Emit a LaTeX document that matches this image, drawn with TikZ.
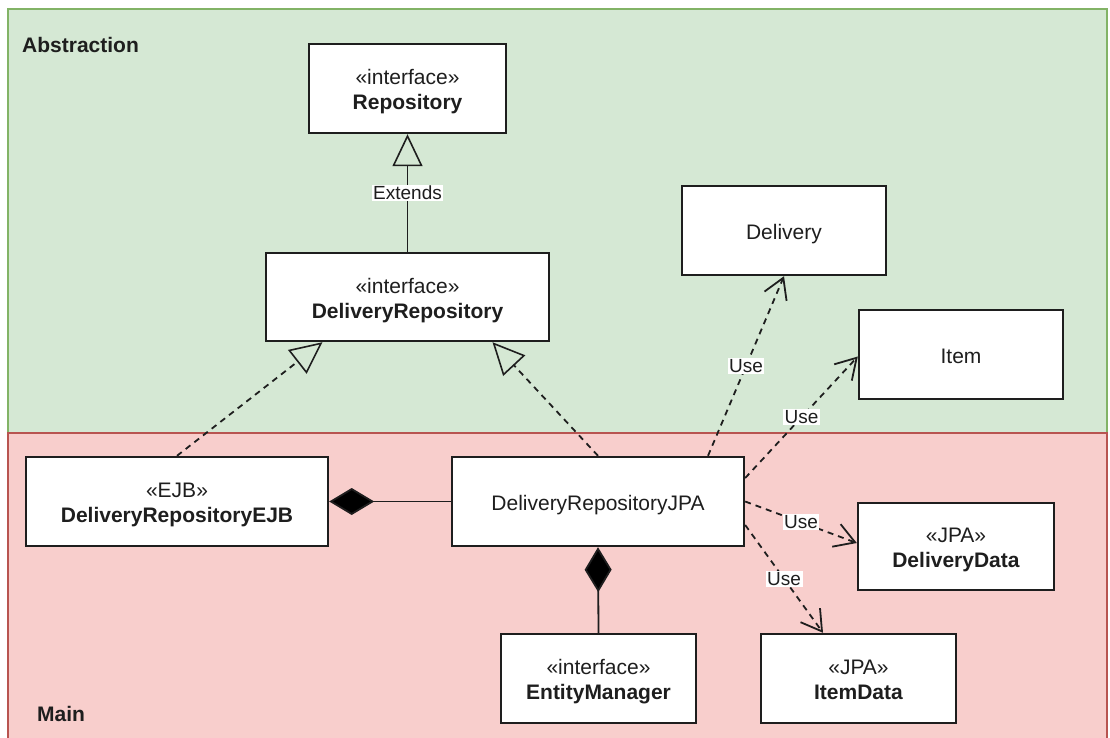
\documentclass[tikz,border=0pt]{standalone}
\usepackage{fontspec}
\setmainfont{Liberation Sans}
\usetikzlibrary{arrows.meta}

\definecolor{absfill}{HTML}{D5E8D4}
\definecolor{absline}{HTML}{82B366}
\definecolor{mainfill}{HTML}{F8CECC}
\definecolor{mainline}{HTML}{B85450}
\definecolor{ink}{HTML}{1E1E1E}

% centred class text, with a little extra room above the first line
\newcommand\umltext[1]{\begin{tabular}{@{}c@{}}\rule{0pt}{25pt}#1\end{tabular}}

\begin{document}
\begin{tikzpicture}[x=1pt,y=-1pt,
  every node/.style={text=ink},
  umlbox/.style={draw=ink, line width=2.4pt, fill=white, inner sep=0pt,
    font=\fontsize{21}{25}\selectfont},
  region/.style={line width=1.2pt},
  regionlabel/.style={anchor=west, inner sep=0pt, font=\bfseries\fontsize{21}{25}\selectfont},
  lbl/.style={fill=white, inner sep=1.5pt, font=\fontsize{19}{21}\selectfont},
  generalize/.style={draw=ink, line width=1.8pt,
    -{Triangle[open, length=32pt, width=30pt, line width=1.6pt]}},
  realize/.style={generalize, dash pattern=on 6pt off 5pt},
  use/.style={draw=ink, line width=1.8pt, dash pattern=on 6pt off 5pt,
    -{Straight Barb[length=20pt, width=24pt, line width=1.8pt]}},
  compose/.style={draw=ink, line width=1.8pt,
    {Diamond[length=45pt, width=27pt, fill=black]}-}
]
\useasboundingbox (0,0) rectangle (1110,737);
\clip (0,0) rectangle (1110,737);
\fill[white] (0,0) rectangle (1110,737);

% package regions
\draw[region, draw=absline, fill=absfill] (8,9) rectangle (1107,433);
\draw[region, draw=mainline, fill=mainfill] (8,433) rectangle (1107,760);
\node[regionlabel] (abslabel) at (22,45) {Abstraction};
\node[regionlabel] (mainlabel) at (37,714) {Main};

% classes and interfaces
\node[umlbox, minimum width=197pt, minimum height=89pt] (repo) at (407.5,88.5)
  {\umltext{«interface»\\\textbf{Repository}}};
\node[umlbox, minimum width=283pt, minimum height=88pt] (drepo) at (407.5,297)
  {\umltext{«interface»\\\textbf{DeliveryRepository}}};
\node[umlbox, minimum width=204pt, minimum height=89pt] (delivery) at (784,230.5)
  {\umltext{Delivery}};
\node[umlbox, minimum width=204pt, minimum height=89pt] (item) at (961,354.5)
  {\umltext{Item}};
\node[umlbox, minimum width=302pt, minimum height=89pt] (ejb) at (177,501.5)
  {\umltext{«EJB»\\\textbf{DeliveryRepositoryEJB}}};
\node[umlbox, minimum width=292pt, minimum height=89pt] (jpa) at (598,501.5)
  {\umltext{DeliveryRepositoryJPA}};
\node[umlbox, minimum width=196pt, minimum height=87pt] (ddata) at (956,546.5)
  {\umltext{«JPA»\\\textbf{DeliveryData}}};
\node[umlbox, minimum width=195pt, minimum height=89pt] (em) at (598.5,678.5)
  {\umltext{«interface»\\\textbf{EntityManager}}};
\node[umlbox, minimum width=195pt, minimum height=89pt] (idata) at (858.5,678.5)
  {\umltext{«JPA»\\\textbf{ItemData}}};

% inheritance and realization
\draw[generalize] (drepo.north) -- node[lbl] {Extends} (repo.south);
\draw[realize] (ejb.north) -- ([xshift=-85pt]drepo.south);
\draw[realize] (jpa.north) -- ([xshift=85pt]drepo.south);

% dependencies
\draw[use] ([xshift=110pt]jpa.north) -- node[lbl] {Use} (delivery.south);
\draw[use] ([yshift=23.5pt]jpa.east) -- node[lbl] {Use} ([yshift=-2pt]item.west);
\draw[use] (jpa.east) -- node[lbl] {Use} ([yshift=3.5pt]ddata.west);
\draw[use] ([yshift=-23.5pt]jpa.east) -- node[lbl] {Use} ([xshift=-35.5pt]idata.north);

% compositions
\draw[compose] (ejb.east) -- (jpa.west);
\draw[compose] (jpa.south) -- (em.north);
\end{tikzpicture}
\end{document}
